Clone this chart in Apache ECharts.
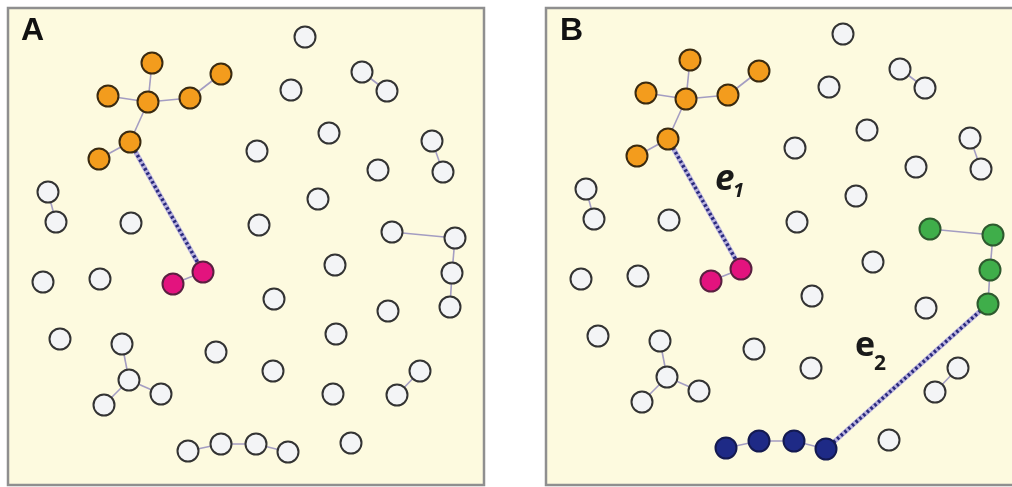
<!DOCTYPE html>
<html><head><meta charset="utf-8">
<script src="https://cdn.jsdelivr.net/npm/echarts@6/dist/echarts.min.js"></script>
<style>html,body{margin:0;padding:0;background:#fff}#c{width:1012px;height:487px}</style>
</head><body><div id="c"></div>
<script>
// node positions (panel-local units)
const nodeX = [297,144,213,100,140,182,122,91,283,354,379,321,249,424,435,370,310,40,48,123,251,384,447,444,442,327,35,92,165,195,266,380,52,114,121,153,96,208,328,265,325,412,389,180,213,248,280,343];
const nodeY = [29,55,66,88,94,90,134,151,82,64,83,125,143,133,164,162,191,184,214,215,217,224,230,265,299,257,274,271,276,264,291,303,331,336,372,386,397,344,326,363,386,363,387,443,436,436,444,435];
// colour group per node: w=white, o=orange, p=pink, g=green, b=blue, - = absent
const groupA = ['w','o','o','o','o','o','o','o','w','w','w','w','w','w','w','w','w','w','w','w','w','w','w','w','w','w','w','w','p','p','w','w','w','w','w','w','w','w','w','w','w','w','w','w','w','w','w','w'];
const groupB = ['w','o','o','o','o','o','o','o','w','w','w','w','w','w','w','w','w','w','w','w','w','g','g','g','g','w','w','w','p','p','w','w','w','w','w','w','w','w','-','w','-','w','w','b','b','b','b','w'];
const edges = [[4,1],[4,3],[4,5],[4,6],[5,2],[6,7],[9,10],[13,14],[17,18],[21,22],[22,23],[23,24],[28,29],[33,34],[34,35],[34,36],[41,42],[43,44],[44,45],[45,46]];
const dottedA = [[6,29]];
const dottedB = [[6,29],[46,24]];

const fills = {w:'#f3f4f6', o:'#f39c1d', p:'#e3137e', g:'#3fae4a', b:'#1e2a86'};
const borders = {w:'#333333', o:'#3a2a10', p:'#5a2040', g:'#2e5a2e', b:'#141a50'};

function graphSeries(groups, idx) {
  const data = [];
  nodeX.forEach((x, i) => {
    const g = groups[i];
    if (g === '-') return;
    data.push({name: 'n' + i, value: [x, nodeY[i]],
      itemStyle: {color: fills[g], borderColor: borders[g], borderWidth: 2}});
  });
  const links = edges.map(e => ({source: 'n' + e[0], target: 'n' + e[1]}));
  return {type: 'graph', coordinateSystem: 'cartesian2d', xAxisIndex: idx, yAxisIndex: idx,
    layout: 'none', symbolSize: 21, z: 3, data: data, links: links, label: {show: false},
    lineStyle: {color: '#a49dc2', width: 1.6, opacity: 1}, emphasis: {disabled: true}};
}
function dotted(list, idx) {
  const data = list.map(e => ({coords: [[nodeX[e[0]], nodeY[e[0]]], [nodeX[e[1]], nodeY[e[1]]]]}));
  return [
    {type: 'lines', coordinateSystem: 'cartesian2d', xAxisIndex: idx, yAxisIndex: idx, z: 1,
      data: data, lineStyle: {color: '#b9b2de', width: 5, opacity: 1, type: 'solid'}},
    {type: 'lines', coordinateSystem: 'cartesian2d', xAxisIndex: idx, yAxisIndex: idx, z: 2,
      data: data, lineStyle: {color: '#2a2a7c', width: 3.5, opacity: 1, type: [2.5, 2.5]}}
  ];
}
const panelStyle = {show: true, backgroundColor: '#fdfadf', borderColor: '#8f8f8f', borderWidth: 2.5, outerBoundsMode: 'none', containLabel: false};
const axX = {type: 'value', min: 0, max: 476, show: false};
const chart = echarts.init(document.getElementById('c'), null, {renderer: 'canvas'});
chart.setOption({
  animation: false,
  backgroundColor: '#ffffff',
  grid: [
    Object.assign({left: 8, top: 8, width: 476, height: 477}, panelStyle),
    Object.assign({left: 546, top: 8, right: -10, height: 477}, panelStyle)
  ],
  xAxis: [Object.assign({gridIndex: 0}, axX), Object.assign({gridIndex: 1}, axX)],
  yAxis: [
    {gridIndex: 0, type: 'value', min: 0, max: 477, inverse: true, show: false},
    {gridIndex: 1, type: 'value', min: 3, max: 480, inverse: true, show: false}
  ],
  graphic: [
    {type: 'text', left: 21, top: 15, style: {text: 'A', font: 'bold 32px "Liberation Sans", Arial, sans-serif', fill: '#111'}},
    {type: 'text', left: 560, top: 15, style: {text: 'B', font: 'bold 32px "Liberation Sans", Arial, sans-serif', fill: '#111'}},
    {type: 'text', left: 715, top: 163, style: {text: 'e', font: 'italic bold 35px "Open Sans", "DejaVu Sans", sans-serif', fill: '#1a1a1a'}},
    {type: 'text', left: 733, top: 181, style: {text: '1', font: 'italic bold 20px "Open Sans", "DejaVu Sans", sans-serif', fill: '#1a1a1a'}},
    {type: 'text', left: 855, top: 329, style: {text: 'e', font: 'bold 34px "Open Sans", "DejaVu Sans", sans-serif', fill: '#1a1a1a'}},
    {type: 'text', left: 874, top: 354, style: {text: '2', font: 'bold 21px "Open Sans", "DejaVu Sans", sans-serif', fill: '#1a1a1a'}}
  ],
  series: [graphSeries(groupA, 0), ...dotted(dottedA, 0), graphSeries(groupB, 1), ...dotted(dottedB, 1)]
});
</script></body></html>
